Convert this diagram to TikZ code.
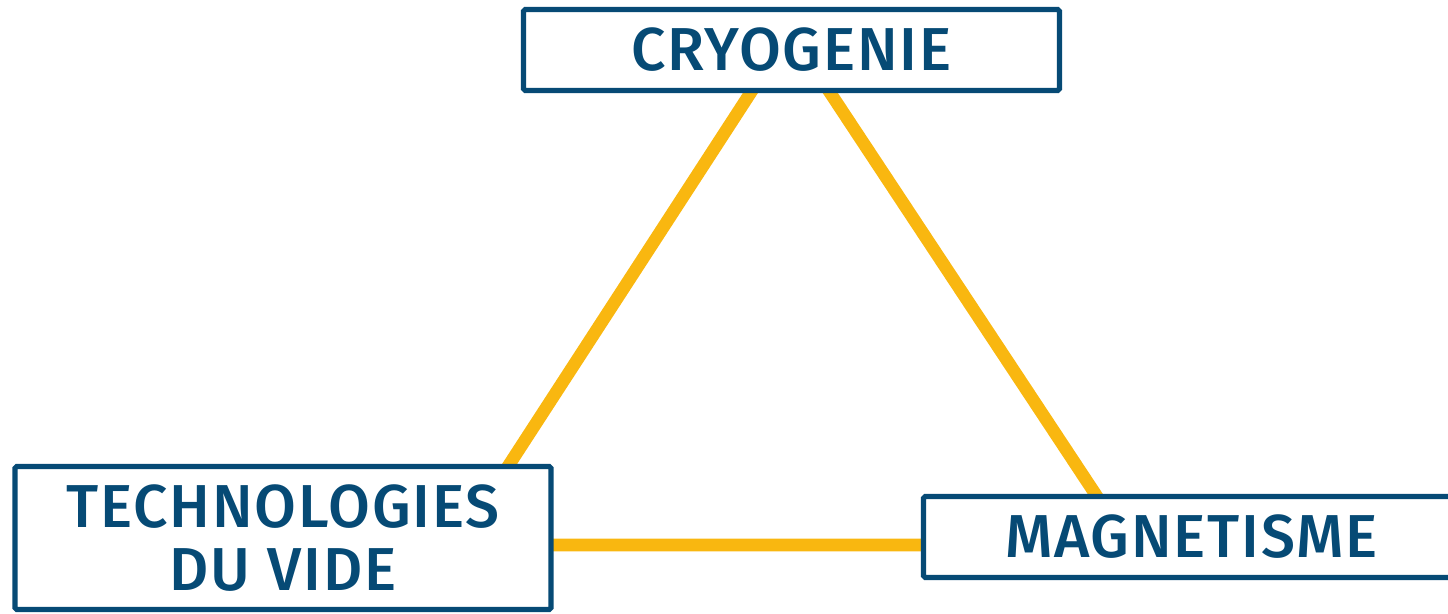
\documentclass[tikz,border=0pt]{standalone}
\usepackage{fontspec}
\setmainfont{Fira Sans}[BoldFont={Fira Sans Medium}, LetterSpace=3]
\usetikzlibrary{positioning}
\definecolor{boxblue}{RGB}{6,74,117}
\definecolor{linkorange}{RGB}{249,183,16}
\tikzset{
    topic/.style={draw=boxblue, line width=2.9pt, fill=white, text=boxblue,
        rounded corners=1pt,
        minimum width=10.72cm, minimum height=1.62cm, inner sep=0pt,
        align=center, font=\fontsize{34.5}{35.7}\selectfont\bfseries},
    link/.style={draw=linkorange, line width=7.2pt}
}
\begin{document}
\begin{tikzpicture}
    \useasboundingbox (0,0) rectangle (28.96,-12.28);
    % corners of the triangle, hidden behind the boxes
    \coordinate (apex) at (15.8,-0.64);
    \coordinate (left) at (9.14,-10.9);
    \coordinate (right) at (22.58,-10.9);
    \draw[link] (apex) -- (left) -- (right) -- cycle;
    \node[topic] (cryo) at (15.83,-1.0) {CRYOGENIE};
    \node[topic, minimum height=2.86cm] (vide) at (5.66,-10.76) {TECHNOLOGIES\\DU VIDE};
    \node[topic] (magn) at (23.83,-10.74) {MAGNETISME};
\end{tikzpicture}
\end{document}
